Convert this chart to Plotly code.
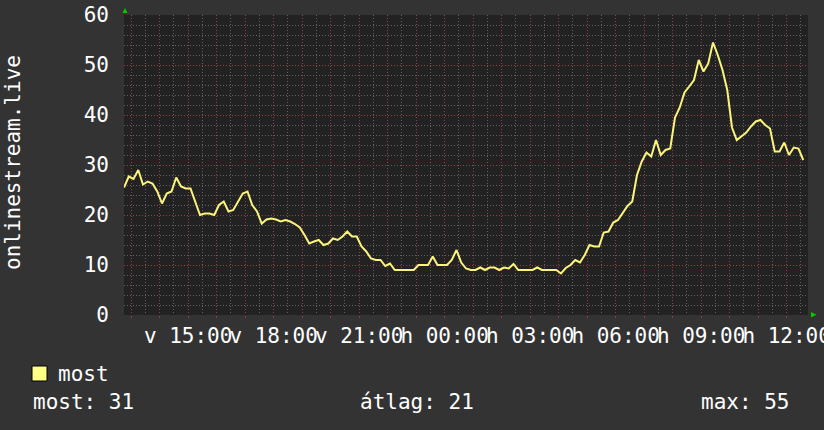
import pandas as pd
import plotly.graph_objects as go

# ---------------- data ----------------
series_name = "most"
start_time = "2024-01-07 12:45"     # Sunday (v) 12:45
step = "10min"
values = [
    25.5, 27.7, 27.2, 29.0, 26.1, 26.7, 26.3, 24.7, 22.3, 24.3,
    24.7, 27.5, 25.7, 25.3, 25.3, 22.7, 20.0, 20.3, 20.3, 20.0,
    22.0, 22.7, 20.7, 21.0, 22.7, 24.3, 24.7, 22.0, 20.7, 18.3,
    19.1, 19.3, 19.1, 18.7, 19.0, 18.7, 18.2, 17.5, 16.0, 14.3,
    14.7, 15.0, 14.0, 14.3, 15.3, 15.0, 15.7, 16.7, 15.7, 15.7,
    13.7, 12.7, 11.3, 11.0, 11.0, 9.8, 10.3, 9.0, 9.0, 9.0,
    9.0, 9.0, 10.0, 10.0, 10.0, 11.7, 10.0, 10.0, 10.0, 11.0,
    13.0, 10.5, 9.3, 9.0, 9.0, 9.5, 9.0, 9.5, 9.5, 9.0,
    9.5, 9.3, 10.2, 9.0, 9.0, 9.0, 9.0, 9.5, 9.0, 9.0,
    9.0, 9.0, 8.3, 9.4, 10.0, 11.0, 10.5, 12.0, 14.0, 13.7,
    13.7, 16.5, 16.7, 18.5, 19.0, 20.5, 21.8, 22.7, 28.0, 30.7,
    32.5, 31.7, 35.0, 32.0, 33.0, 33.3, 39.5, 41.5, 44.5, 45.7,
    47.0, 51.0, 48.7, 50.3, 54.5, 52.0, 49.0, 45.0, 37.5, 35.0,
    35.7, 36.5, 37.7, 38.7, 39.0, 38.0, 37.3, 32.7, 32.7, 34.5,
    32.0, 33.5, 33.3, 31.0,
]
x_range = ["2024-01-07 12:45", "2024-01-08 12:45"]
label_times = ["2024-01-07 15:00", "2024-01-07 18:00", "2024-01-07 21:00",
               "2024-01-08 00:00", "2024-01-08 03:00", "2024-01-08 06:00",
               "2024-01-08 09:00", "2024-01-08 12:00"]
label_texts = ["v 15:00", "v 18:00", "v 21:00", "h 00:00",
               "h 03:00", "h 06:00", "h 09:00", "h 12:00"]
y_ticks = [0, 10, 20, 30, 40, 50, 60]
y_title = "onlinestream.live"
stat_now, stat_avg, stat_max = 31, 21, 55

# ---------------- style ----------------
FONT = "DejaVu Sans Mono"
FS = 21
LINE = "#fbf47c"
MAJ = "rgba(160,60,60,0.85)"
MIN = "rgba(105,105,105,0.9)"
DASH = "1px,2px"

times = pd.date_range(start_time, periods=len(values), freq=step)
hours = pd.date_range("2024-01-07 13:00", "2024-01-08 12:00", freq="1h")
lab = dict(zip(pd.to_datetime(label_times), label_texts))
hour_text = [lab.get(h, "") for h in hours]

fig = go.Figure()
fig.add_trace(go.Scatter(x=times, y=values, mode="lines", name=series_name,
                         line=dict(color=LINE, width=2), showlegend=False))

L, R, T, B = 124, 16, 15, 115
W, H = 824, 430
pw, ph = W - L - R, H - T - B


def px(xp):
    return (xp - L) / pw


def py(yp):
    return (H - B - yp) / ph


fig.update_layout(
    width=W, height=H,
    margin=dict(l=L, r=R, t=T, b=B, autoexpand=False),
    paper_bgcolor="#333333", plot_bgcolor="#222222",
    font=dict(family=FONT, size=FS, color="#ffffff"),
    xaxis=dict(
        type="date", range=x_range, tickmode="array",
        tickvals=list(hours), ticktext=hour_text, tickangle=0,
        automargin=False, ticklabeloverflow="allow",
        showgrid=True, gridcolor=MAJ, griddash=DASH, gridwidth=1,
        ticks="outside", ticklen=2, tickcolor=MAJ,
        minor=dict(dtick=30 * 60 * 1000, tick0="2024-01-07 00:00",
                   showgrid=True, gridcolor=MIN, griddash=DASH, ticks=""),
        zeroline=False, showline=False,
        tickfont=dict(family=FONT, size=FS, color="#ffffff"),
        fixedrange=True,
    ),
    yaxis=dict(
        range=[0, 60], tickmode="array", tickvals=y_ticks,
        automargin=False,
        showgrid=True, gridcolor=MAJ, griddash=DASH, gridwidth=1,
        minor=dict(dtick=2, tick0=0, showgrid=True, gridcolor=MIN,
                   griddash=DASH, ticks=""),
        ticks="", ticklabelstandoff=14,
        zeroline=False, showline=False,
        tickfont=dict(family=FONT, size=FS, color="#ffffff"),
        fixedrange=True,
    ),
)

# axis arrows (green)
fig.add_shape(type="path", xref="paper", yref="paper",
              path=f"M {px(122.5)} {py(13)} L {px(127.5)} {py(13)} L {px(125)} {py(8)} Z",
              fillcolor="#00cc00", line=dict(width=0))
fig.add_shape(type="path", xref="paper", yref="paper",
              path=f"M {px(811)} {py(312)} L {px(811)} {py(317.5)} L {px(816.5)} {py(314.75)} Z",
              fillcolor="#00cc00", line=dict(width=0))

# y title
fig.add_annotation(text=y_title, textangle=-90, xref="paper", yref="paper",
                   x=px(13), y=py(163), xanchor="center", yanchor="middle",
                   showarrow=False, font=dict(family=FONT, size=FS, color="#ffffff"))

# legend square + name
fig.add_shape(type="rect", xref="paper", yref="paper",
              x0=px(32), x1=px(47), y0=py(381), y1=py(366),
              fillcolor="#ffff88", line=dict(color="#000000", width=1))
fig.add_annotation(text=series_name, xref="paper", yref="paper",
                   x=px(56), y=py(374), xanchor="left", yanchor="middle",
                   showarrow=False, font=dict(family=FONT, size=FS, color="#ffffff"))

# stats line
for txt, xp in [(f"most: {stat_now}", 31), (f"átlag: {stat_avg}", 358),
                (f"max: {stat_max}", 699)]:
    fig.add_annotation(text=txt, xref="paper", yref="paper",
                       x=px(xp), y=py(402), xanchor="left", yanchor="middle",
                       showarrow=False,
                       font=dict(family=FONT, size=FS, color="#ffffff"))

fig.write_html(
    "out.html",
    config={"displayModeBar": False},
    post_script="document.body.style.margin='0';document.body.style.overflow='hidden';"
                "document.body.style.background='#333333';",
)
